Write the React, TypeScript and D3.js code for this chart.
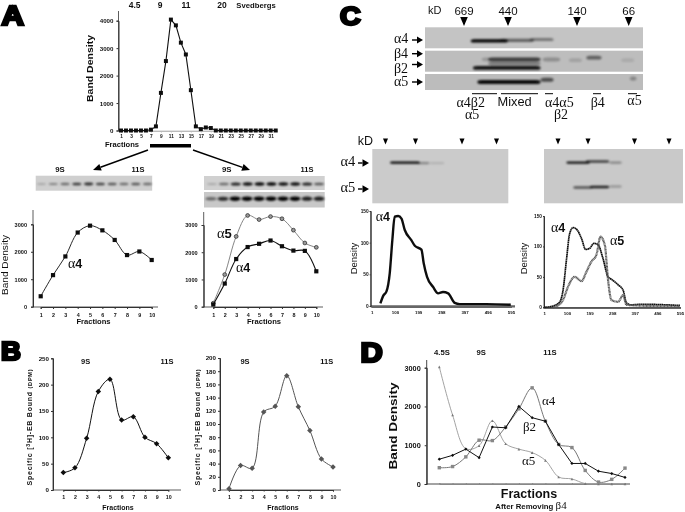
import React, { useEffect, useRef } from "react";
import * as d3 from "d3";

const SANS = "'Liberation Sans', Arial, sans-serif";
const SERIF = "'Liberation Serif', serif";

// Panel A main
const aMainFractions = d3.range(1, 33);
const aMainValues = [0,0,0,0,0,0,30,150,1370,2530,4040,3830,3200,2770,1470,150,50,110,90,0,0,0,0,0,0,0,0,0,0,0,0,0];
const aMainTicks = [1,3,5,7,9,11,13,15,17,19,21,23,25,27,29,31];
const fractions10 = [1,2,3,4,5,6,7,8,9,10];
// Panel A lower
const aLeftA4 = [380,1150,1830,2700,2950,2780,2430,1880,2010,1700];
const aRightA5 = [130,1180,2580,3350,3200,3310,3230,2810,2340,2180];
const aRightA4 = [80,850,1750,2190,2310,2430,2220,2060,2050,1300];
// Panel B
const bLeft = [33,42,98,187,210,133,139,100,88,61];
const bRight = [2,37,33,118,127,173,126,90,47,35];
// Panel C densities
const cLeftX = [38,50,64,78,89,99,114,128,142,170,185,213,223,237,263,284,305,327,355,376,490,594];
const cLeftA4 = [4,16,23,52,104,141,142,138,120,104,95,89,67,46,30,20,22,20,5,3,3,2];
const cRightA4X = [1,39,69,83,98,112,127,145,164,182,200,218,236,258,280,295,324,346,361,382,426,595];
const cRightA4 = [0,2,9,28,78,121,131,127,113,95,97,105,103,80,50,46,37,28,7,4,5,3];
const cRightA5X = [39,61,83,105,134,164,185,207,229,247,266,280,295,324,346,361,595];
const cRightA5 = [0,3,12,34,50,43,58,75,86,116,102,45,12,9,20,4,1];
const cTicks = [1,100,199,298,397,496,595];
// Panel D
const dFractions = d3.range(1, 16);
const dBeta2 = [640,740,900,680,1470,1450,2000,1710,1620,1020,530,530,330,270,170];
const dAlpha4 = [420,450,700,1130,1120,1470,1940,2480,1620,1020,940,350,50,120,410];
const dAlpha5 = [3020,1780,910,990,1630,1040,900,810,610,180,130,10,0,0,0];
// Blots: band intensities per fraction
const blotA4 = [0.2,0.4,0.5,0.75,0.8,0.7,0.6,0.5,0.6,0.5];
const blotRight1 = [0.2,0.5,0.85,0.95,1,1,0.95,0.95,0.85,0.6];
const blotRight2 = [0.5,0.8,1,1,1,1,1,1,0.85,0.85];
// Blots: smears in relative units [from, to, lane, intensity]
const smearTopA4 = [[0.21,0.38,0.65,1],[0.34,0.5,0.62,0.5],[0.48,0.59,0.58,0.4]];
const smearTopB = [[0.29,0.53,0.41,0.7],[0.26,0.3,0.41,0.2],[0.29,0.53,0.6,0.35],[0.22,0.53,0.82,0.9],[0.54,0.62,0.42,0.25],[0.66,0.72,0.45,0.15],[0.74,0.81,0.33,0.5],[0.9,0.96,0.45,0.1]];
const smearTopA5 = [[0.24,0.53,0.5,0.95],[0.53,0.59,0.36,0.6],[0.94,0.97,0.28,0.3]];
const smearMidLeft = [[0.13,0.35,0.25,1],[0.33,0.42,0.26,0.35],[0.42,0.53,0.26,0.12]];
const smearMidRight = [[0.16,0.33,0.25,0.95],[0.3,0.47,0.23,0.7],[0.47,0.56,0.25,0.35],[0.21,0.35,0.71,0.6],[0.33,0.47,0.7,0.85],[0.47,0.56,0.69,0.25]];

const Tx = (p: any) => (
  <text fontFamily={SANS} fontWeight={700} fill="#111" {...p}>{p.children}</text>
);
const Gk = (p: any) => (
  <text fontFamily={SERIF} fill="#111" {...p}>{p.children}</text>
);
const AlphaBold = ({ x, y, n, fs = 14 }: any) => (
  <Gk x={x} y={y} fontSize={fs}>α<tspan fontFamily={SANS} fontWeight={700} fontSize={fs - 1.5}>{n}</tspan></Gk>
);

function Axis({ scale, orient, at, tickValues, fs = 6, size = 2, labelGap = 3, path = "#333", noLabels = false, sw = 1 }: any) {
  const ref = useRef<SVGGElement>(null);
  useEffect(() => {
    const gen = (orient === "left" ? d3.axisLeft(scale) : d3.axisBottom(scale)) as any;
    gen.tickValues(tickValues).tickSizeOuter(0).tickSize(size).tickPadding(labelGap);
    gen.tickFormat(noLabels ? () => "" : d3.format("d"));
    const g = d3.select(ref.current!);
    g.call(gen);
    g.selectAll("path").attr("stroke", path).attr("stroke-width", sw);
    g.selectAll("line").attr("stroke", path);
    g.selectAll("text").attr("font-family", SANS).attr("font-weight", 700).attr("font-size", fs).attr("fill", "#111");
  }, []);
  return <g ref={ref} transform={orient === "left" ? `translate(${at},0)` : `translate(0,${at})`} />;
}

function Line({ xs, ys, x, y, color = "#111", sw = 1.2, curve = d3.curveLinear, marker = "square", ms = 4.2, mfill, mstroke }: any) {
  const line = d3.line<number>().x((_, i) => x(xs[i])).y((d) => y(d)).curve(curve);
  const fill = mfill || color;
  return (
    <g>
      <path d={line(ys) || ""} fill="none" stroke={color} strokeWidth={sw} />
      {ys.map((v: number, i: number) => {
        const cx = x(xs[i]), cy = y(v);
        if (marker === "square") return <rect key={i} x={cx - ms / 2} y={cy - ms / 2} width={ms} height={ms} fill={fill} />;
        if (marker === "circle") return <circle key={i} cx={cx} cy={cy} r={ms / 2} fill={fill} stroke={mstroke || "#222"} strokeWidth={0.7} />;
        if (marker === "diamond") return <path key={i} d={`M${cx},${cy - ms / 2}L${cx + ms / 2},${cy}L${cx},${cy + ms / 2}L${cx - ms / 2},${cy}Z`} fill={fill} />;
        if (marker === "triangle") return <path key={i} d={`M${cx},${cy - ms / 2}L${cx + ms / 2},${cy + ms / 2}L${cx - ms / 2},${cy + ms / 2}Z`} fill={fill} />;
        return null;
      })}
    </g>
  );
}

function Dense({ xs, ys, x, y, color, sw, dash }: any) {
  const line = d3.line<number>().x((_, i) => x(xs[i])).y((d) => y(d)).curve(d3.curveMonotoneX);
  return <path d={line(ys) || ""} fill="none" stroke={color} strokeWidth={sw} strokeDasharray={dash} />;
}

function Blot({ x0, y0, w, h, bg = "#c4c4c4" }: any) {
  return <rect x={x0} y={y0} width={w} height={h} fill={bg} />;
}

function Bands({ vals, x, y, rx, ry }: any) {
  return (
    <g filter="url(#bl1)">
      {vals.map((v: number, i: number) => (
        <ellipse key={i} cx={x(i + 1)} cy={y} rx={rx} ry={ry * (0.6 + v * 0.6)} fill="#000" opacity={v} />
      ))}
    </g>
  );
}

function Smears({ list, x0, y0, w, h, ry = 1.6 }: any) {
  const sx = d3.scaleLinear([0, 1], [x0, x0 + w]);
  const sy = d3.scaleLinear([0, 1], [y0, y0 + h]);
  return (
    <g filter="url(#bl2)">
      {list.map((s: number[], i: number) => (
        <rect key={i} x={sx(s[0])} y={sy(s[2]) - ry} width={sx(s[1]) - sx(s[0])} height={ry * 2} rx={ry * 2} ry={ry} fill="#000" opacity={s[3]} />
      ))}
    </g>
  );
}

function Arrow({ x1, y1, x2, y2, head = 8, w = 7, sw = 1.4 }: any) {
  const a = Math.atan2(y2 - y1, x2 - x1);
  const bx = x2 - head * Math.cos(a), by = y2 - head * Math.sin(a);
  const nx = -Math.sin(a) * w / 2, ny = Math.cos(a) * w / 2;
  return (
    <g>
      <line x1={x1} y1={y1} x2={bx} y2={by} stroke="#000" strokeWidth={sw} />
      <path d={`M${x2},${y2}L${bx + nx},${by + ny}L${bx - nx},${by - ny}Z`} fill="#000" />
    </g>
  );
}

const Down = ({ x, y, w = 8, h = 9 }: any) => (
  <path d={`M${x - w / 2},${y}L${x + w / 2},${y}L${x},${y + h}Z`} fill="#000" />
);

const BigLetter = ({ x, y, fs, sx = 1.15, sw = 2.6, children }: any) => (
  <text transform={`translate(${x},${y}) scale(${sx},1)`} fontFamily={SANS} fontWeight={700} fontSize={fs} fill="#000" stroke="#000" strokeWidth={sw}>{children}</text>
);

const EbLabel = ({ x }: any) => (
  <Tx x={0} y={0} fontSize={7} letterSpacing={0.75} textAnchor="middle" transform={`translate(${x},427) rotate(-90)`}>
    Specific [<tspan fontSize={5.4} dy={-2}>3</tspan><tspan dy={2}>H]-EB Bound </tspan><tspan fontSize={5.6}>(DPM)</tspan>
  </Tx>
);

export default function App() {
  const ax = d3.scaleLinear([1, 31], [121, 270.7]);
  const ay = d3.scaleLinear([0, 4000], [130.5, 20.7]);
  const alx = d3.scaleLinear([1, 10], [40.7, 151.7]);
  const aly = d3.scaleLinear([0, 3000], [306.7, 224.3]);
  const arx = d3.scaleLinear([1, 10], [213.3, 316.3]);
  const ary = d3.scaleLinear([0, 3000], [306.7, 225]);
  const blx = d3.scaleLinear([1, 10], [63.3, 168.3]);
  const bly = d3.scaleLinear([0, 250], [490, 358.3]);
  const brx = d3.scaleLinear([1, 10], [229, 333]);
  const bry = d3.scaleLinear([0, 200], [490, 358]);
  const clx = d3.scaleLinear([1, 595], [371.7, 511]);
  const cly = d3.scaleLinear([0, 150], [306, 211]);
  const crx = d3.scaleLinear([1, 595], [544.3, 680]);
  const cry = d3.scaleLinear([0, 150], [307.3, 216]);
  const dx = d3.scaleLinear([1, 15], [439.3, 625]);
  const dy = d3.scaleLinear([0, 3000], [484, 367.7]);

  return (
    <svg width={685} height={512} viewBox="0 0 685 512" style={{ position: "absolute", left: 0, top: 0, background: "#fff" }}>
      <defs>
        <filter id="soft" x="0" y="0" width="100%" height="100%"><feGaussianBlur stdDeviation="0.35" /></filter>
        <filter id="bl1" x="-10%" y="-100%" width="120%" height="300%"><feGaussianBlur stdDeviation="0.9" /></filter>
        <filter id="bl2" x="-20%" y="-200%" width="140%" height="500%"><feGaussianBlur stdDeviation="1.1" /></filter>
      </defs>
      <g filter="url(#soft)">
        <rect width={685} height={512} fill="#fff" />
        {/* Panel A */}
        <BigLetter x={1.5} y={24.5} fs={27}>A</BigLetter>
        <Tx x={134.7} y={8} fontSize={8.5} textAnchor="middle">4.5</Tx>
        <Tx x={160} y={8} fontSize={8.5} textAnchor="middle">9</Tx>
        <Tx x={186} y={8} fontSize={8.5} textAnchor="middle">11</Tx>
        <Tx x={222} y={8} fontSize={8.5} textAnchor="middle">20</Tx>
        <Tx x={256} y={7.5} fontSize={7.7} textAnchor="middle">Svedbergs</Tx>
        <path d="M118.5,11V131" fill="none" stroke="#333" strokeWidth={0.8} />
        <path d="M118.5,131H278" fill="none" stroke="#bbb" strokeWidth={0.8} />
        <Axis scale={ay} orient="left" at={118.5} tickValues={[0,1000,2000,3000,4000]} fs={6.2} />
        <Axis scale={ax} orient="bottom" at={131} tickValues={aMainTicks} fs={4.8} size={1.5} labelGap={2.5} path="#bbb" />
        <Line xs={aMainFractions} ys={aMainValues} x={ax} y={ay} color="#111" sw={1.1} ms={4} />
        <Tx x={0} y={0} fontSize={9.5} textAnchor="middle" textLength={67} lengthAdjust="spacingAndGlyphs" transform="translate(93,68.5) rotate(-90)">Band Density</Tx>
        <Tx x={122} y={146.7} fontSize={7.6} textAnchor="middle">Fractions</Tx>
        <rect x={150} y={144} width={41} height={3.5} fill="#000" />
        <Arrow x1={148} y1={150} x2={93} y2={170} />
        <Arrow x1={193} y1={150} x2={250} y2={170} />

        <Tx x={60} y={172.3} fontSize={7.8} textAnchor="middle">9S</Tx>
        <Tx x={138} y={172.3} fontSize={7.5} textAnchor="middle">11S</Tx>
        <Tx x={226.7} y={172.3} fontSize={7.8} textAnchor="middle">9S</Tx>
        <Tx x={307} y={172.3} fontSize={7.5} textAnchor="middle">11S</Tx>
        <Blot x0={35.7} y0={175.7} w={116.5} h={15} bg="#cfcfcf" />
        <Bands vals={blotA4} x={d3.scaleLinear([1, 10], [41.5, 147.5])} y={184} rx={4.6} ry={1.3} />
        <Blot x0={204} y0={176} w={120.7} h={14} bg="#d0d0d0" />
        <Blot x0={204} y0={192} w={120.7} h={15.5} bg="#c8c8c8" />
        <Bands vals={blotRight1} x={d3.scaleLinear([1, 10], [212, 319])} y={184} rx={5} ry={1.4} />
        <Bands vals={blotRight2} x={d3.scaleLinear([1, 10], [211, 319])} y={198.7} rx={5.5} ry={1.9} />

        <path d="M33,210V307H158" fill="none" stroke="#333" strokeWidth={0.8} />
        <Axis scale={aly} orient="left" at={33} tickValues={[0,1000,2000,3000]} fs={5.6} labelGap={4} />
        <Axis scale={alx} orient="bottom" at={307} tickValues={fractions10} fs={5.4} labelGap={4} />
        <Line xs={fractions10} ys={aLeftA4} x={alx} y={aly} curve={d3.curveCatmullRom} sw={0.9} ms={4.2} />
        <Tx x={0} y={0} fontSize={9} fontWeight={400} textAnchor="middle" textLength={60} lengthAdjust="spacingAndGlyphs" transform="translate(8,265) rotate(-90)">Band Density</Tx>
        <Tx x={93.5} y={324} fontSize={7.6} textAnchor="middle">Fractions</Tx>
        <AlphaBold x={68} y={268.3} n="4" />

        <path d="M203.7,212V307H323" fill="none" stroke="#333" strokeWidth={0.8} />
        <Axis scale={ary} orient="left" at={203.7} tickValues={[0,1000,2000,3000]} fs={5.6} labelGap={4} />
        <Axis scale={arx} orient="bottom" at={307} tickValues={fractions10} fs={5.4} labelGap={4} />
        <Line xs={fractions10} ys={aRightA5} x={arx} y={ary} color="#777" curve={d3.curveCatmullRom} sw={0.9} marker="circle" ms={3.8} mfill="#999" />
        <Line xs={fractions10} ys={aRightA4} x={arx} y={ary} curve={d3.curveCatmullRom} sw={1.1} ms={4.2} />
        <Tx x={264} y={324} fontSize={7.6} textAnchor="middle">Fractions</Tx>
        <AlphaBold x={217} y={238} n="5" fs={14.5} />
        <AlphaBold x={236} y={271.7} n="4" />

        {/* Panel B */}
        <BigLetter x={1} y={359.5} fs={25} sw={2.6} sx={1.1}>B</BigLetter>
        <Tx x={85.7} y={364} fontSize={7.5} textAnchor="middle">9S</Tx>
        <Tx x={167} y={364} fontSize={7.5} textAnchor="middle">11S</Tx>
        <Tx x={245} y={364} fontSize={7.5} textAnchor="middle">9S</Tx>
        <Tx x={326.7} y={364} fontSize={7.5} textAnchor="middle">11S</Tx>
        <Axis scale={bly} orient="left" at={53} tickValues={[0,50,100,150,200,250]} fs={6.2} size={2} labelGap={2} />
        <path d="M53,358V490H181" fill="none" stroke="#333" strokeWidth={0.8} />
        <Axis scale={blx} orient="bottom" at={490} tickValues={fractions10} fs={5.3} size={1.5} labelGap={3.5} />
        <Line xs={fractions10} ys={bLeft} x={blx} y={bly} curve={d3.curveCatmullRom} sw={1} marker="diamond" ms={5.5} color="#111" />
        <EbLabel x={32} />
        <Tx x={118} y={510} fontSize={7} textAnchor="middle">Fractions</Tx>

        <path d="M220,358V490H341" fill="none" stroke="#333" strokeWidth={0.8} />
        <Axis scale={bry} orient="left" at={220} tickValues={d3.range(0, 201, 20)} fs={6.2} size={2} labelGap={2} />
        <Axis scale={brx} orient="bottom" at={490} tickValues={fractions10} fs={5.3} size={1.5} labelGap={3.5} />
        <Line xs={fractions10} ys={bRight} x={brx} y={bry} curve={d3.curveCatmullRom} sw={1} marker="diamond" ms={5.5} color="#555" />
        <EbLabel x={200} />
        <Tx x={283} y={510} fontSize={7} textAnchor="middle">Fractions</Tx>

        {/* Panel C top */}
        <BigLetter x={340} y={24.5} fs={26} sx={1.1}>C</BigLetter>
        <text x={428} y={14} fontFamily={SANS} fontSize={11} fill="#111">kD</text>
        {[["669",464],["440",508],["140",577],["66",628.7]].map(([t, x]: any) => (
          <g key={t}>
            <text x={x} y={14.7} fontFamily={SANS} fontSize={11.5} fill="#111" textAnchor="middle">{t}</text>
            <Down x={x} y={17} w={7.6} h={9} />
          </g>
        ))}
        <Blot x0={425} y0={27.3} w={218} h={21} />
        <Blot x0={425} y0={50.7} w={218} h={21} bg="#bdbdbd" />
        <Blot x0={425} y0={74} w={218} h={16} bg="#bcbcbc" />
        <Smears list={smearTopA4} x0={425} y0={27.3} w={218} h={21} ry={1.6} />
        <Smears list={smearTopB} x0={425} y0={50.7} w={218} h={21} ry={1.9} />
        <Smears list={smearTopA5} x0={425} y0={74} w={218} h={16} ry={2} />
        <Gk x={394} y={43} fontSize={14}>α4</Gk>
        <Gk x={394} y={58} fontSize={14}>β4</Gk>
        <Gk x={394} y={72.5} fontSize={14}>β2</Gk>
        <Gk x={394} y={86} fontSize={14}>α5</Gk>
        <Arrow x1={412} y1={40} x2={423} y2={40} head={6} w={7} />
        <Arrow x1={412} y1={53.7} x2={423} y2={53.7} head={6} w={7} />
        <Arrow x1={412} y1={64.5} x2={423} y2={64.5} head={6} w={7} />
        <Arrow x1={412} y1={82} x2={423} y2={82} head={6} w={7} />
        {[[472,497],[501,538],[545,553],[593,601],[628,637]].map(([a, b]: number[]) => (
          <line key={a} x1={a} x2={b} y1={93.7} y2={93.7} stroke="#000" strokeWidth={1} />
        ))}
        <Gk x={456.5} y={107.3} fontSize={14}>α4β2<tspan x={465} dy={11.7}>α5</tspan></Gk>
        <text x={497.5} y={106} fontFamily={SANS} fontSize={12.8} fill="#111">Mixed</text>
        <Gk x={545} y={107.3} fontSize={14}>α4α5<tspan x={554} dy={11.4}>β2</tspan></Gk>
        <Gk x={590.7} y={107.3} fontSize={14}>β4</Gk>
        <Gk x={627.3} y={105} fontSize={14}>α5</Gk>

        {/* Panel C middle */}
        <text x={357.7} y={145} fontFamily={SANS} fontSize={12.5} fill="#111">kD</text>
        {[385.5,415.5,462,496.5,558,588,634.5,669].map((x) => <Down key={x} x={x} y={138.5} w={5} h={6} />)}
        <Blot x0={372.3} y0={149} w={136} h={54.3} bg="#cbcbcb" />
        <Blot x0={544} y0={149} w={139} h={54.3} bg="#c9c9c9" />
        <Smears list={smearMidLeft} x0={372.3} y0={149} w={136} h={54.3} ry={1.2} />
        <Smears list={smearMidRight} x0={544} y0={149} w={139} h={54.3} ry={1.2} />
        <Gk x={340.5} y={165.7} fontSize={14.5}>α4</Gk>
        <Gk x={340.5} y={192} fontSize={14.5}>α5</Gk>
        <Arrow x1={358} y1={163} x2={369} y2={163} head={6.5} w={7.5} />
        <Arrow x1={358} y1={189} x2={369} y2={189} head={6.5} w={7.5} />

        {/* Panel C density */}
        <path d="M370.7,211V306.5" fill="none" stroke="#333" strokeWidth={0.8} />
        <line x1={370.7} x2={515} y1={306.3} y2={306.3} stroke="#666" strokeWidth={2.2} />
        <Axis scale={cly} orient="left" at={370.7} tickValues={[0,50,100,150]} fs={4.8} size={1} labelGap={1} />
        <Axis scale={clx} orient="bottom" at={307} tickValues={cTicks} fs={4.4} size={1} labelGap={2.5} path="#666" />
        <Dense xs={cLeftX} ys={cLeftA4} x={clx} y={cly} color="#111" sw={2.4} />
        <text x={0} y={0} fontFamily={SANS} fontSize={9.5} fill="#111" textAnchor="middle" transform="translate(356.5,258.5) rotate(-90)">Density</text>
        <AlphaBold x={375.7} y={220.7} n="4" />

        <path d="M544,216V308" fill="none" stroke="#333" strokeWidth={0.8} />
        <line x1={544} x2={681} y1={307.6} y2={307.6} stroke="#555" strokeWidth={1.2} />
        <Axis scale={cry} orient="left" at={544} tickValues={[0,50,100,150]} fs={4.8} size={1} labelGap={1} />
        <Axis scale={crx} orient="bottom" at={308} tickValues={cTicks} fs={4.4} size={1} labelGap={2.5} path="#666" />
        <Dense xs={cRightA4X} ys={cRightA4} x={crx} y={cry} color="#111" sw={1.7} dash="1.6 0.3" />
        <Dense xs={cRightA5X} ys={cRightA5} x={crx} y={cry} color="#555" sw={2.2} dash="1 0.4" />
        <text x={0} y={0} fontFamily={SANS} fontSize={9.5} fill="#111" textAnchor="middle" transform="translate(527,258.5) rotate(-90)">Density</text>
        <AlphaBold x={551} y={231.7} n="4" />
        <AlphaBold x={610} y={245} n="5" />

        {/* Panel D */}
        <BigLetter x={360.5} y={362} fs={28} sx={1.1} sw={2.6}>D</BigLetter>
        <Tx x={442} y={355} fontSize={7.7} textAnchor="middle">4.5S</Tx>
        <Tx x={481.3} y={355} fontSize={7.7} textAnchor="middle">9S</Tx>
        <Tx x={550} y={355} fontSize={7.7} textAnchor="middle">11S</Tx>
        <path d="M426.7,360V484H630" fill="none" stroke="#333" strokeWidth={0.9} />
        <Axis scale={dy} orient="left" at={426.7} tickValues={[0,1000,2000,3000]} fs={7.3} size={2} labelGap={4} />
        <Axis scale={dx} orient="bottom" at={484} tickValues={dFractions} noLabels size={-1} path="#888" />
        <Line xs={dFractions} ys={dAlpha5} x={dx} y={dy} color="#999" curve={d3.curveCatmullRom} sw={0.9} marker="triangle" ms={2.6} mfill="#777" />
        <Line xs={dFractions} ys={dAlpha4} x={dx} y={dy} color="#777" curve={d3.curveCatmullRom} sw={1} marker="square" ms={3.4} mfill="#888" />
        <Line xs={dFractions} ys={dBeta2} x={dx} y={dy} color="#111" sw={1} marker="diamond" ms={3.2} />
        <Tx x={0} y={0} fontSize={11} textAnchor="middle" textLength={87} lengthAdjust="spacingAndGlyphs" transform="translate(397,426) rotate(-90)">Band Density</Tx>
        <Tx x={529} y={498} fontSize={12.5} textAnchor="middle">Fractions</Tx>
        <Tx x={531} y={509} fontSize={7.8} textAnchor="middle">After Removing <tspan fontFamily={SERIF} fontWeight={400} fontSize={11}>β4</tspan></Tx>
        <Gk x={542} y={405} fontSize={13}>α4</Gk>
        <Gk x={523} y={431} fontSize={13}>β2</Gk>
        <Gk x={522} y={465} fontSize={13}>α5</Gk>
      </g>
    </svg>
  );
}
